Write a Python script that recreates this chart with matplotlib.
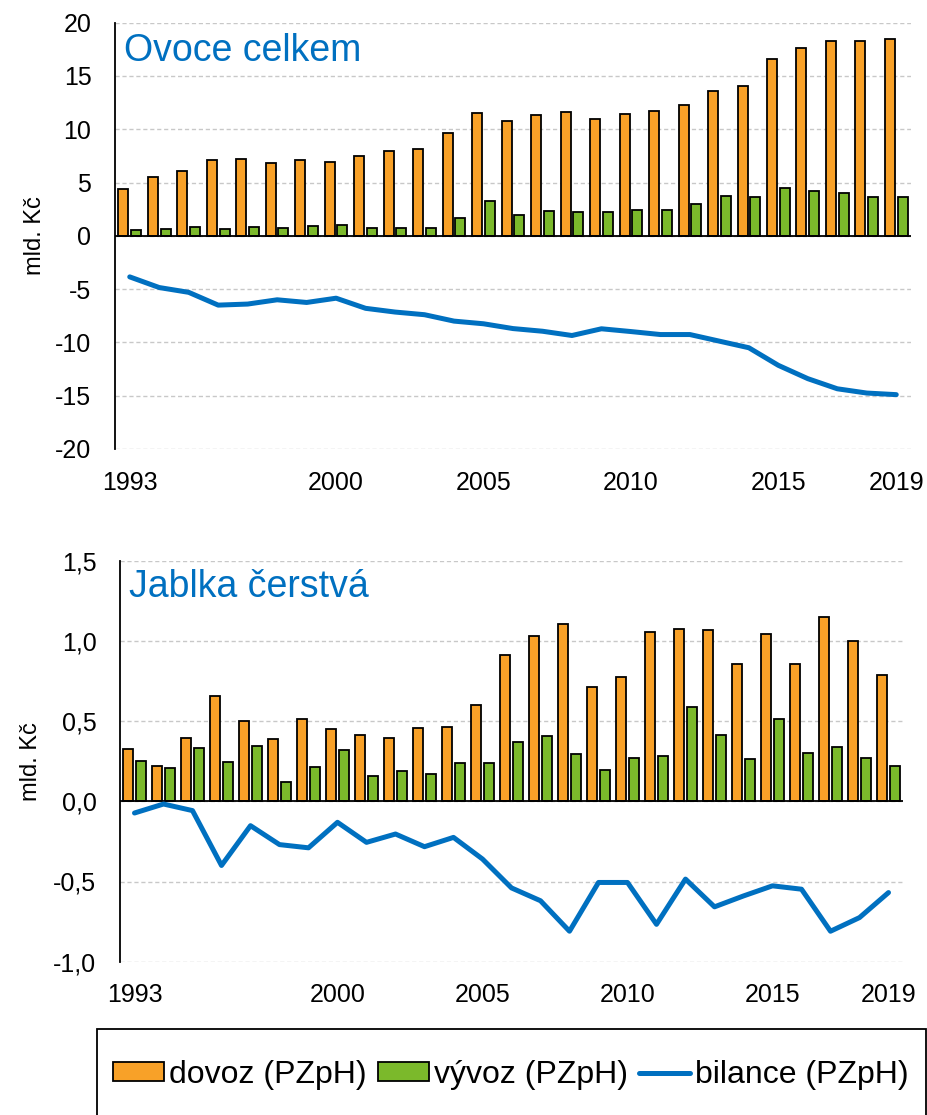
import matplotlib
matplotlib.use("Agg")
import matplotlib.pyplot as plt
from matplotlib.patches import Rectangle
from matplotlib.ticker import FuncFormatter
import numpy as np

plt.rcParams['font.family'] = ['Liberation Sans', 'DejaVu Sans']
plt.rcParams['axes.unicode_minus'] = False

years = list(range(1993, 2020))
shown_years = [1993, 2000, 2005, 2010, 2015, 2019]

# Ovoce celkem (mld. Kc)
ovoce_dovoz = [4.4, 5.5, 6.1, 7.1, 7.25, 6.8, 7.1, 6.9, 7.5, 7.95, 8.15, 9.65,
               11.5, 10.75, 11.3, 11.6, 11.0, 11.4, 11.75, 12.25, 13.6, 14.1,
               16.6, 17.6, 18.3, 18.3, 18.5]
ovoce_vyvoz = [0.55, 0.6, 0.8, 0.62, 0.82, 0.78, 0.9, 1.05, 0.75, 0.75, 0.75, 1.65,
               3.25, 2.0, 2.3, 2.25, 2.28, 2.4, 2.45, 3.0, 3.7, 3.62,
               4.5, 4.25, 4.0, 3.6, 3.6]
ovoce_bilance = [-3.85, -4.85, -5.3, -6.5, -6.4, -6.0, -6.25, -5.85, -6.8, -7.15,
                 -7.4, -8.0, -8.25, -8.7, -8.95, -9.35, -8.72, -8.98, -9.26,
                 -9.26, -9.88, -10.5, -12.15, -13.4, -14.35, -14.75, -14.9]

# Jablka cerstva (mld. Kc)
jablka_dovoz = [0.323, 0.223, 0.396, 0.654, 0.5, 0.388, 0.51, 0.452, 0.413, 0.394,
                0.456, 0.465, 0.6, 0.91, 1.03, 1.104, 0.71, 0.773, 1.058, 1.073,
                1.069, 0.858, 1.046, 0.854, 1.15, 0.998, 0.79]
jablka_vyvoz = [0.254, 0.206, 0.335, 0.246, 0.346, 0.119, 0.215, 0.319, 0.156,
                0.192, 0.169, 0.238, 0.24, 0.371, 0.41, 0.292, 0.198, 0.267,
                0.285, 0.588, 0.413, 0.265, 0.515, 0.302, 0.34, 0.273, 0.223]
jablka_bilance = [-0.073, -0.017, -0.058, -0.40, -0.152, -0.27, -0.29, -0.131,
                  -0.256, -0.204, -0.283, -0.225, -0.36, -0.54, -0.62, -0.81,
                  -0.506, -0.506, -0.767, -0.485, -0.658, -0.59, -0.527, -0.548,
                  -0.81, -0.725, -0.569]

labels = ['dovoz (PZpH)', 'vývoz (PZpH)', 'bilance (PZpH)']

orange = '#F8A128'
green = '#7BB92B'
blue = '#0070C0'

fig = plt.figure(figsize=(9.28, 11.15), dpi=100)
ax1 = fig.add_axes([115 / 928, 1 - 449 / 1115, 796 / 928, 426.3 / 1115])
ax2 = fig.add_axes([120 / 928, 1 - 961.7 / 1115, 783 / 928, 401 / 1115])

x = np.arange(len(years))
w = 0.34
off = 0.215


def draw(ax, dovoz, vyvoz, bilance, ylim, step, title, fmt, xpad, lab_x):
    bd = ax.bar(x - off, dovoz, w, color=orange, edgecolor='black', lw=1.3, zorder=3)
    bv = ax.bar(x + off, vyvoz, w, color=green, edgecolor='black', lw=1.3, zorder=3)
    ln, = ax.plot(x, bilance, color=blue, lw=3.6, solid_capstyle='round', zorder=4)
    ax.axhline(0, color='black', lw=1.3, zorder=3.5)
    ax.set_xlim(-0.5, len(years) - 0.5)
    ax.set_ylim(*ylim)
    ax.set_yticks(np.arange(ylim[0], ylim[1] + step / 2, step))
    ax.yaxis.set_major_formatter(FuncFormatter(fmt))
    ax.grid(axis='y', ls=(0, (3, 2)), color='#C8C8C8', lw=1, zorder=0)
    ax.set_xticks([years.index(y) for y in shown_years])
    ax.set_xticklabels([str(y) for y in shown_years])
    ax.tick_params(axis='x', length=0, pad=xpad, labelsize=18)
    ax.tick_params(axis='y', length=0, pad=17, labelsize=18)
    for s in ['top', 'right', 'bottom']:
        ax.spines[s].set_visible(False)
    ax.spines['left'].set_linewidth(1.3)
    ax.set_ylabel('mld. Kč', fontsize=17)
    ax.yaxis.set_label_coords(lab_x, 0.5)
    ax.text(0.011, 0.91, title, transform=ax.transAxes, fontsize=27,
            color=blue, ha='left', va='baseline')
    return bd, bv, ln


bd, bv, ln = draw(ax1, ovoce_dovoz, ovoce_vyvoz, ovoce_bilance, (-20, 20), 5,
                  'Ovoce celkem', lambda v, p: f"{v:.0f}", 16, -0.087)
draw(ax2, jablka_dovoz, jablka_vyvoz, jablka_bilance, (-1.0, 1.5), 0.5,
     'Jablka čerstvá', lambda v, p: f"{v:.1f}".replace('.', ','), 15, -0.100)

# legend box runs off the bottom of the picture
fig.patches.append(Rectangle((97 / 928, -0.05), 829 / 928, 0.05 + 1 - 1029 / 1115,
                             transform=fig.transFigure, fill=False,
                             edgecolor='black', lw=1.3))
fig.legend([bd, bv, ln], labels,
           loc='center left', bbox_to_anchor=(97 / 928, 1 - 1075 / 1115),
           ncol=3, frameon=False, borderpad=0, fontsize=23, handlelength=1.6,
           handleheight=0.55, handletextpad=0.15, columnspacing=0.35)

fig.savefig('out.png', dpi=100)
